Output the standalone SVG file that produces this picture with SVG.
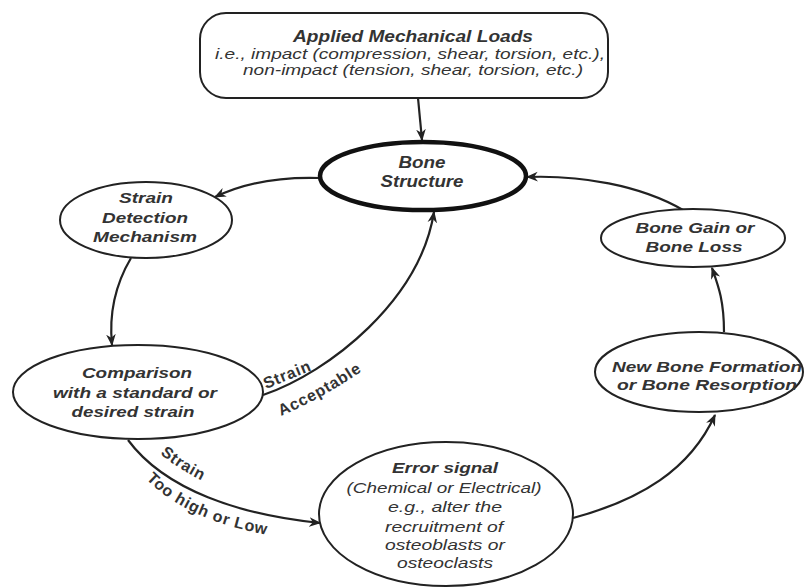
<svg xmlns="http://www.w3.org/2000/svg" width="805" height="587" viewBox="0 0 805 587">
<defs>
<style>
.n{fill:#fff;stroke:#222;stroke-width:2}
.t{font-family:"Liberation Sans",Arial,sans-serif;font-style:italic;font-weight:bold;fill:#333;text-anchor:middle}
.p{font-family:"Liberation Sans",Arial,sans-serif;font-style:italic;fill:#333;text-anchor:middle}
.c{fill:none;stroke:#222;stroke-width:2.2}
.l{font-family:"Liberation Sans",Arial,sans-serif;font-weight:bold;fill:#333;font-size:16px;letter-spacing:0.8px}
</style>
<marker id="ah2" viewBox="0 0 10 10" refX="9" refY="5" markerWidth="12" markerHeight="12" orient="auto" markerUnits="userSpaceOnUse">
<path d="M0,1 L10,5 L0,9 L3,5 Z" fill="#222"/>
</marker>
<path id="lp1" d="M266,389 L320,367"/>
<path id="lp2" d="M281,416 Q330,395 378,360"/>
<path id="lp3" d="M160,454 Q185,474 216,487"/>
<path id="lp4" d="M146,479 Q194,528 298,539"/>
</defs>
<g id="connectors">
<path class="c" d="M418,98 L422,140" marker-end="url(#ah2)"/>
<path class="c" d="M320,178 Q258,176 215,197" marker-end="url(#ah2)"/>
<path class="c" d="M131,258 C115,285 109,315 112,345" marker-end="url(#ah2)"/>
<path class="c" d="M263,395 C330,372 420,300 434,212" marker-end="url(#ah2)"/>
<path class="c" d="M128,440 C165,490 240,515 320,523" marker-end="url(#ah2)"/>
<path class="c" d="M573,518 C640,500 690,470 715,415" marker-end="url(#ah2)"/>
<path class="c" d="M724,332 C724,300 718,285 712,268" marker-end="url(#ah2)"/>
<path class="c" d="M683,210 C640,185 580,175 527,177" marker-end="url(#ah2)"/>
<text class="l"><textPath href="#lp1">Strain</textPath></text>
<text class="l"><textPath href="#lp2">Acceptable</textPath></text>
<text class="l"><textPath href="#lp3">Strain</textPath></text>
<text class="l"><textPath href="#lp4">Too high or Low</textPath></text>
</g>
<g id="loads">
<rect class="n" x="200" y="13" width="408" height="85" rx="26"/>
<text class="t" x="413" y="42" font-size="16" textLength="240" lengthAdjust="spacingAndGlyphs">Applied Mechanical Loads</text>
<text class="p" x="410" y="59" font-size="15" textLength="390" lengthAdjust="spacingAndGlyphs">i.e., impact (compression, shear, torsion, etc.),</text>
<text class="p" x="413" y="75" font-size="15" textLength="340" lengthAdjust="spacingAndGlyphs">non-impact (tension, shear, torsion, etc.)</text>
</g>
<g id="bone-structure">
<ellipse cx="423" cy="176" rx="103" ry="34" fill="#fff" stroke="#111" stroke-width="4.5"/>
<text class="t" x="422" y="168" font-size="16" textLength="47" lengthAdjust="spacingAndGlyphs">Bone</text>
<text class="t" x="422" y="187" font-size="16" textLength="83" lengthAdjust="spacingAndGlyphs">Structure</text>
</g>
<g id="strain-detection">
<ellipse class="n" cx="146" cy="220" rx="86" ry="38"/>
<text class="t" x="146" y="203" font-size="15" textLength="54" lengthAdjust="spacingAndGlyphs">Strain</text>
<text class="t" x="145" y="223" font-size="15" textLength="86" lengthAdjust="spacingAndGlyphs">Detection</text>
<text class="t" x="145" y="242" font-size="15" textLength="104" lengthAdjust="spacingAndGlyphs">Mechanism</text>
</g>
<g id="bone-gain">
<ellipse class="n" cx="693" cy="238" rx="92" ry="29"/>
<text class="t" x="695" y="233" font-size="15" textLength="119" lengthAdjust="spacingAndGlyphs">Bone Gain or</text>
<text class="t" x="694" y="252" font-size="15" textLength="97" lengthAdjust="spacingAndGlyphs">Bone Loss</text>
</g>
<g id="comparison">
<ellipse class="n" cx="138" cy="392" rx="125" ry="47"/>
<text class="t" x="137" y="378" font-size="15" textLength="110" lengthAdjust="spacingAndGlyphs">Comparison</text>
<text class="t" x="135" y="398" font-size="15" textLength="164" lengthAdjust="spacingAndGlyphs">with a standard or</text>
<text class="t" x="133" y="417" font-size="15" textLength="123" lengthAdjust="spacingAndGlyphs">desired strain</text>
</g>
<g id="new-bone">
<ellipse class="n" cx="699" cy="372" rx="104" ry="40"/>
<text class="t" x="707" y="372" font-size="15" textLength="190" lengthAdjust="spacingAndGlyphs">New Bone Formation</text>
<text class="t" x="707" y="390" font-size="15" textLength="180" lengthAdjust="spacingAndGlyphs">or Bone Resorption</text>
</g>
<g id="error-signal">
<ellipse class="n" cx="446" cy="514" rx="127" ry="72"/>
<text class="t" x="445" y="473" font-size="15" textLength="106" lengthAdjust="spacingAndGlyphs">Error signal</text>
<text class="p" x="444" y="493" font-size="14" textLength="195" lengthAdjust="spacingAndGlyphs">(Chemical or Electrical)</text>
<text class="p" x="445" y="512" font-size="14" textLength="114" lengthAdjust="spacingAndGlyphs">e.g., alter the</text>
<text class="p" x="444" y="532" font-size="14" textLength="118" lengthAdjust="spacingAndGlyphs">recruitment of</text>
<text class="p" x="445" y="550" font-size="14" textLength="120" lengthAdjust="spacingAndGlyphs">osteoblasts or</text>
<text class="p" x="445" y="568" font-size="14" textLength="96" lengthAdjust="spacingAndGlyphs">osteoclasts</text>
</g>
</svg>
